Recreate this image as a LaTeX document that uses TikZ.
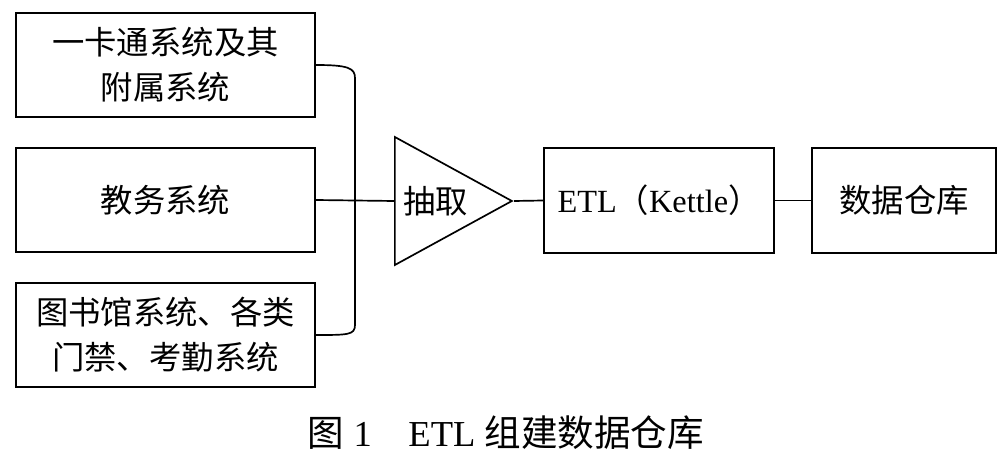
\documentclass[tikz,border=0pt]{standalone}
\usepackage{fontspec}
\setmainfont{Liberation Serif}
\newfontfamily\cjk{Noto Sans CJK SC}
\newcommand{\zh}[1]{{\cjk #1}}
\usetikzlibrary{shapes.geometric,positioning,calc}
\tikzset{
  sysbox/.style={draw, line width=1.2pt, align=center, inner sep=0pt,
                 minimum width=7.475cm, minimum height=2.6cm,
                 font=\fontsize{23}{32}\selectfont},
  procbox/.style={draw, line width=1.2pt, align=center, inner sep=0pt,
                 minimum height=2.625cm, font=\fontsize{23}{32}\selectfont},
  wire/.style={line width=1.2pt}
}

\begin{document}
\begin{tikzpicture}[x=0.025cm,y=-0.025cm]
            \useasboundingbox (0,0) rectangle (1007,464);
            % source systems
            \node[sysbox] (sys1) at (165.5,65)  {\zh{一卡通系统及其}\\\zh{附属系统}};
            \node[sysbox] (sys2) at (165.5,200) {\zh{教务系统}};
            \node[sysbox] (sys3) at (165.5,335) {\zh{图书馆系统、各类}\\\zh{门禁、考勤系统}};
            % extraction
            \node[draw, line width=1.2pt, isosceles triangle, isosceles triangle stretches,
                  minimum width=3.2cm, minimum height=2.925cm, inner sep=0pt,
                  anchor=lower side, font=\fontsize{23}{32}\selectfont]
                  (pick) at (394,201) {\zh{抽取}};
            % etl and warehouse
            \node[procbox, minimum width=5.75cm] (etl) at (659,200.5) {ETL\zh{（}Kettle\zh{）}};
            \node[procbox, minimum width=4.6cm]  (dw)  at (904,200.5) {\zh{数据仓库}};
            % bracket
            \draw[wire] (sys1.east) .. controls +(32,0) and +(0,-10) .. (355,78)
                  -- (355,325) .. controls +(0,10) and +(32,0) .. (sys3.east);
            \draw[wire] (sys2.east) -- (pick.lower side);
            \draw[wire] (pick.apex) -- (etl.west);
            \draw[wire] (etl.east) -- (dw.west);
            % caption
            \node[font=\fontsize{26}{32}\selectfont] (cap) at (506,433)
                  {\zh{图} 1\hspace{1em}ETL \zh{组建数据仓库}};
\end{tikzpicture}
\end{document}
